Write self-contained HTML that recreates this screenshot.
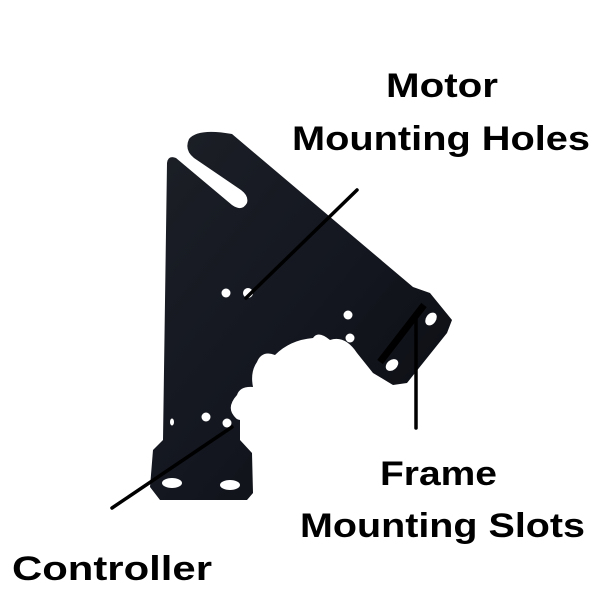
<!DOCTYPE html>
<html><head><style>html,body{margin:0;padding:0;background:#fff}svg{display:block}</style></head>
<body>
<svg width="600" height="600" viewBox="0 0 600 600" xmlns="http://www.w3.org/2000/svg">
<defs>
<linearGradient id="g" x1="0" y1="0" x2="1" y2="1">
<stop offset="0" stop-color="#1c1f26"/><stop offset="0.5" stop-color="#141720"/><stop offset="1" stop-color="#0b0c10"/>
</linearGradient>
</defs>
<path fill="url(#g)" d="M167,163 Q168,155 176,158 L232,205 Q242,212 247,203 Q249,196 241,190 L194,158 Q184,150 189,139 Q198,128 232,134
L413,287 L430,293 L452,320 L447,333 L407,383 L393,385 L373,373 L357,353
Q345,335 330,340 Q318,330 313,338 Q290,340 275,355 Q262,350 257,362
Q250,372 253,387 Q240,386 237,395 Q228,405 232,413 Q236,420 240,420 L240,440 L252,453 L253,493 L247,500 L160,500 L150,487 L153,450 L163,440 Z"/>
<path d="M380,362 L424,305" stroke="#000" stroke-width="7" fill="none"/>
<g fill="#fff">
<circle cx="226" cy="293" r="4.5"/><circle cx="248" cy="293" r="5"/>
<circle cx="348" cy="315" r="4.5"/><circle cx="350" cy="338" r="4.5"/>
<ellipse cx="431" cy="319" rx="5" ry="7" transform="rotate(35 431 319)"/>
<ellipse cx="392" cy="365" rx="5" ry="7" transform="rotate(50 392 365)"/>
<circle cx="206" cy="417" r="4.5"/><circle cx="227" cy="423" r="4.5"/>
<ellipse cx="172" cy="422" rx="2" ry="3.5"/>
<ellipse cx="172" cy="483" rx="10" ry="5"/><ellipse cx="230" cy="485" rx="10" ry="5"/>
</g>
<g stroke="#000" stroke-width="3.5" stroke-linecap="round">
<line x1="357" y1="190" x2="246" y2="298"/>
<line x1="416" y1="318" x2="416" y2="428"/>
<line x1="112" y1="508" x2="232" y2="427"/>
</g>
<g font-family="Liberation Sans, sans-serif" font-weight="bold" font-size="34" fill="#000">
<text x="386" y="97" textLength="112" lengthAdjust="spacingAndGlyphs">Motor</text>
<text x="292" y="150" textLength="298" lengthAdjust="spacingAndGlyphs">Mounting Holes</text>
<text x="380" y="485" textLength="117" lengthAdjust="spacingAndGlyphs">Frame</text>
<text x="300" y="537" textLength="285" lengthAdjust="spacingAndGlyphs">Mounting Slots</text>
<text x="12" y="580" textLength="200" lengthAdjust="spacingAndGlyphs">Controller</text>
</g>
</svg>
</body></html>
